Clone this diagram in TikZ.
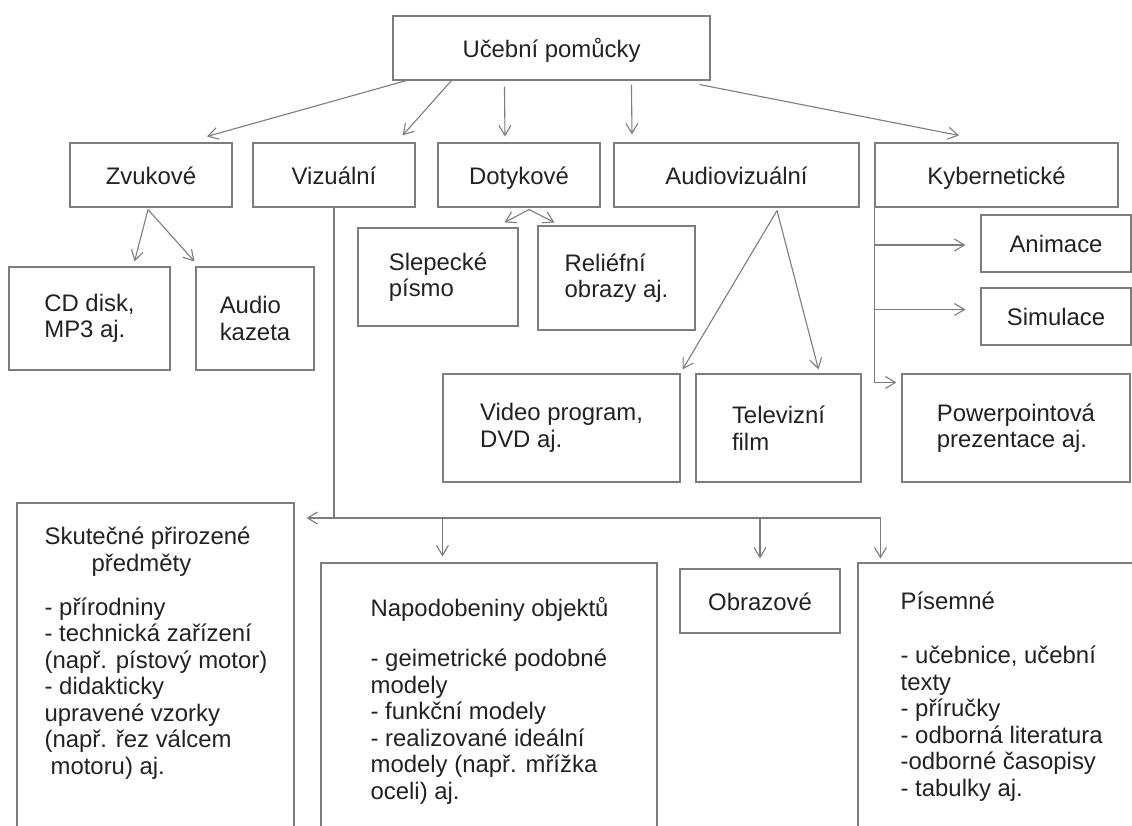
\documentclass[tikz,border=0pt]{standalone}
\usepackage{fontspec}
\setmainfont{Liberation Sans}
\definecolor{pmgray}{RGB}{125,125,125}
\definecolor{pmtext}{RGB}{34,34,34}
\usetikzlibrary{arrows.meta,positioning}

\begin{document}
\begin{tikzpicture}[x=1pt, y=-1pt,
  box/.style={draw=pmgray, line width=1.1pt, inner sep=0pt, align=left, text=pmtext, font=\fontsize{23.9}{26.5}\selectfont},
  oneline/.style={box, text height=22pt, text depth=4pt},
  boxtext/.style={inner sep=0pt, align=left, anchor=north west, text=pmtext, font=\fontsize{23.9}{26.5}\selectfont},
  arr/.style={draw=pmgray, line width=1.1pt, -{Straight Barb[length=10pt,width=12pt]}},
  link/.style={draw=pmgray, line width=1.1pt}]

  \fill[white] (0,0) rectangle (1132,825);
  \useasboundingbox (0,0) rectangle (1132,825);
  \clip (0,0) rectangle (1132,825);

  % Top node
  \node[oneline, minimum width=317pt, minimum height=64pt] (ucebni) at (551.5,48) {Učební pomůcky};

  % Kinds of aids
  \node[oneline, minimum width=162pt, minimum height=64pt] (zvuk) at (151,175) {Zvukové};
  \node[oneline, minimum width=162pt, minimum height=64pt] (vizu) at (334,175) {Vizuální};
  \node[oneline, minimum width=162pt, minimum height=64pt] (doty) at (519,175) {Dotykové};
  \node[oneline, minimum width=245pt, minimum height=64pt] (audi) at (736.5,175) {Audiovizuální};
  \node[oneline, minimum width=243pt, minimum height=64pt] (kybe) at (996.5,175) {Kybernetické};

  \draw[arr] ([xshift=14pt]ucebni.south west) -- ([xshift=56pt,yshift=6pt]zvuk.north);
  \draw[arr] ([xshift=59pt]ucebni.south west) -- ([xshift=-13pt,yshift=7pt]vizu.north east);
  \draw[arr] ([xshift=112pt,yshift=-6pt]ucebni.south west) -- ([xshift=-14pt,yshift=6pt]doty.north);
  \draw[arr] ([xshift=239pt,yshift=-4pt]ucebni.south west) -- ([xshift=-104.5pt,yshift=8pt]audi.north);
  \draw[arr] ([xshift=-11pt,yshift=-4pt]ucebni.south east) -- ([xshift=-37.5pt,yshift=7pt]kybe.north);

  % Zvukove branch
  \node[box, minimum width=161pt, minimum height=103pt] (cd) at (89.5,318.5) {CD disk,\\MP3 aj.};
  \node[box, minimum width=118pt, minimum height=103pt] (kazeta) at (255,318.5) {Audio\\kazeta};
  \draw[arr] ([xshift=-3pt,yshift=-2pt]zvuk.south) -- ([xshift=45pt,yshift=5pt]cd.north);
  \draw[arr] ([xshift=-3pt,yshift=-2pt]zvuk.south) -- ([xshift=-1pt,yshift=5pt]kazeta.north west);

  % Dotykove branch
  \node[box, minimum width=160pt, minimum height=98pt] (slep) at (438,277) {Slepecké\\písmo};
  \node[box, minimum width=157pt, minimum height=104pt] (reli) at (616.5,278) {Reliéfní\\obrazy aj.};
  \draw[arr] ([xshift=10pt,yshift=-2pt]doty.south) -- ([xshift=-14pt,yshift=5pt]slep.north east);
  \draw[arr] ([xshift=10pt,yshift=-2pt]doty.south) -- ([xshift=17pt,yshift=3pt]reli.north west);

  % Audiovizualni branch
  \node[box, minimum width=237pt, minimum height=108pt] (video) at (561.5,428) {Video program,\\DVD aj.};
  \node[box, minimum width=165pt, minimum height=108pt] (tele) at (778.5,428) {Televizní\\film};
  \draw[arr] ([xshift=40.5pt,yshift=-3pt]audi.south) -- ([xshift=2pt,yshift=4pt]video.north east);
  \draw[arr] ([xshift=40.5pt,yshift=-3pt]audi.south) -- ([xshift=40pt,yshift=4pt]tele.north);

  % Kyberneticke branch
  \node[oneline, minimum width=150pt, minimum height=57pt] (anim) at (1056,243.5) {Animace};
  \node[oneline, minimum width=150pt, minimum height=57pt] (simu) at (1056,316.5) {Simulace};
  \node[box, minimum width=228pt, minimum height=108pt] (ppt) at (1016,428) {Powerpointová\\prezentace aj.};
  \coordinate (anim-in) at ([xshift=-15pt,yshift=-1.5pt]anim.west);
  \coordinate (simu-in) at ([xshift=-15pt,yshift=7pt]simu.west);
  \draw[arr] (kybe.south west) |- ([xshift=-5pt,yshift=-9pt]ppt.north west);
  \draw[arr] (kybe.south west |- anim-in) -- (anim-in);
  \draw[arr] (kybe.south west |- simu-in) -- (simu-in);

  % Vizualni branch (boxes run off the bottom edge)
  \node[box, minimum width=277pt, minimum height=342pt] (skut) at (155.5,674) {};
  \node[box, minimum width=336pt, minimum height=282pt] (napo) at (489,704) {};
  \node[oneline, minimum width=160pt, minimum height=64pt] (obra) at (760,601) {Obrazové};
  \node[box, minimum width=292pt, minimum height=282pt] (pise) at (1004,704) {};

  \node[boxtext] (skut-t) at ([xshift=28pt,yshift=-24.5pt]skut.north west)
    {Skutečné přirozené\\\hspace*{47pt}předměty\\[17.5pt]- přírodniny\\- technická zařízení\\(např. pístový motor)\\- didakticky\\upravené vzorky\\(např. řez válcem\\\hspace*{6pt}motoru) aj.};
  \node[boxtext] (napo-t) at ([xshift=50pt,yshift=-35pt]napo.north west)
    {Napodobeniny objektů\\[23.5pt]- geimetrické podobné\\modely\\- funkční modely\\- realizované ideální\\modely (např. mřížka\\oceli) aj.};
  \node[boxtext] (pise-t) at ([xshift=43pt,yshift=-29pt]pise.north west)
    {Písemné\\[28pt]- učebnice, učební\\texty\\- příručky\\- odborná literatura\\-odborné časopisy\\- tabulky aj.};

  \coordinate (vjoin) at (334,518);
  \coordinate (napo-in) at ([xshift=122pt,yshift=6pt]napo.north west);
  \draw[link] (vizu.south) -- (vjoin);
  \draw[arr, shorten >=12pt] (vjoin) -- (skut.north east |- vjoin);
  \draw[arr] (vjoin) -| ([xshift=23pt,yshift=4pt]pise.north west);
  \draw[arr] (napo-in |- vjoin) -- (napo-in);
  \draw[arr] (obra.north |- vjoin) -- ([yshift=10pt]obra.north);
\end{tikzpicture}
\end{document}
